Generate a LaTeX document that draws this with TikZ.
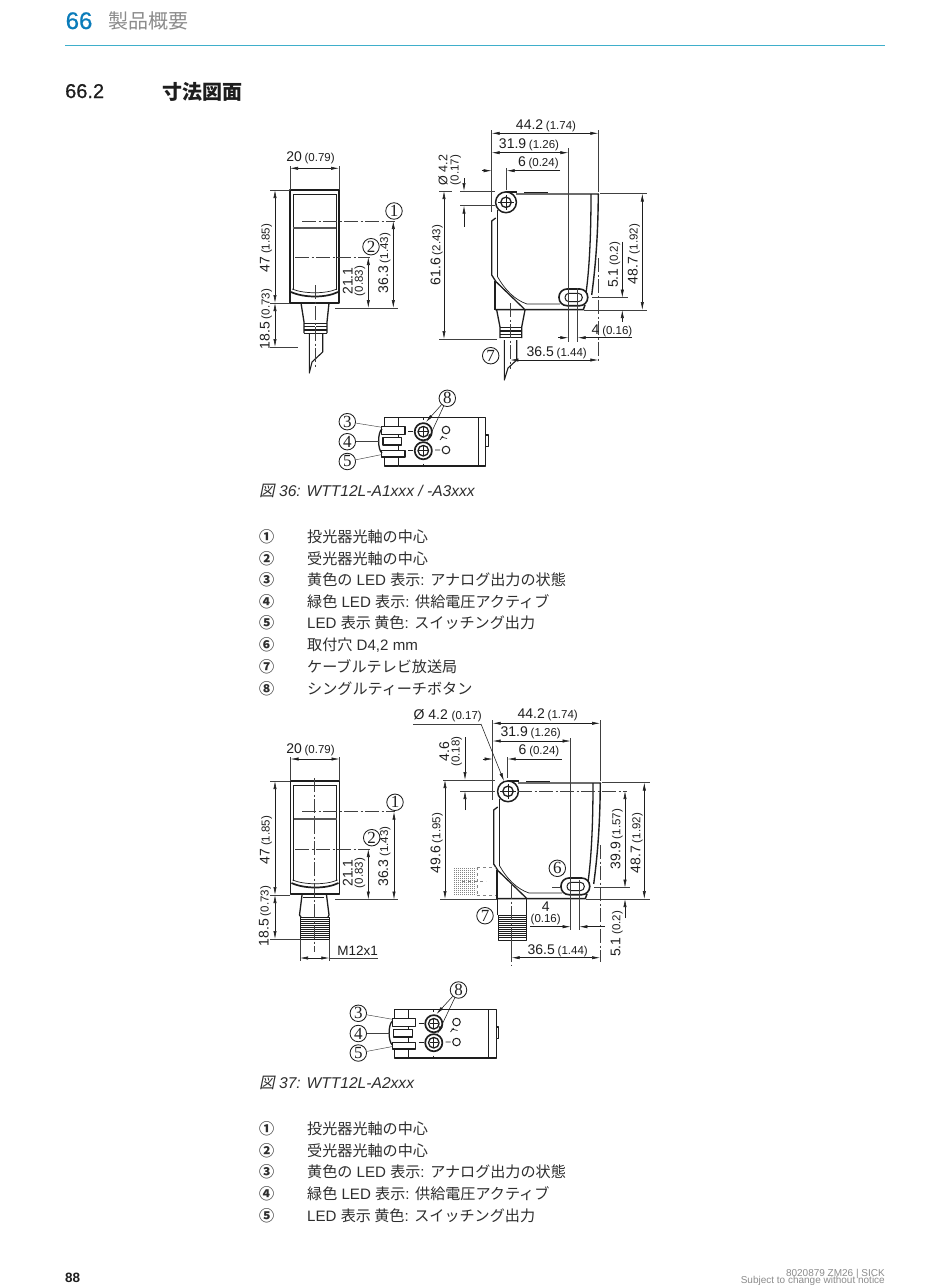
\documentclass[tikz,border=0pt]{standalone}
\usepackage{fontspec}
\setmainfont{Liberation Sans}
\newfontfamily\cjk[AutoFakeSlant=0.2]{Noto Sans CJK JP}
\newfontfamily\medf[FakeBold=0.6]{Liberation Sans}
\newfontfamily\numf{Liberation Serif}
\usetikzlibrary{arrows.meta}
\definecolor{ink}{HTML}{1E1E1E}
\definecolor{txt}{HTML}{2E2E2E}
\definecolor{sickblue}{HTML}{0A7CBA}
\definecolor{rulec}{HTML}{3FAFCB}
\definecolor{headgray}{HTML}{8C8C8C}
\newcounter{nn}
\tikzset{
 dimc/.style={draw=ink,line width=0.55pt,{Latex[length=8pt,width=3.2pt]}-{Latex[length=8pt,width=3.2pt]}},
 dimr/.style={draw=ink,line width=0.55pt,-{Latex[length=8pt,width=3.2pt]}},
 ext/.style={draw=ink!85,line width=0.45pt},
 cen/.style={draw=ink!85,line width=0.5pt,dash pattern=on 14pt off 2.5pt on 2pt off 2.5pt},
 obj/.style={draw=ink,line width=1.3pt,line join=round},
 objt/.style={draw=ink,line width=0.7pt},
 lab/.style={inner sep=0pt,text=ink},
 num/.style={draw=ink,circle,line width=0.85pt,inner sep=0pt,minimum size=16.5pt,text=ink,font=\fontsize{17}{17}\selectfont\numf},
 ltxt/.style={inner sep=0pt,anchor=base west,text=txt,font=\fontsize{15.1}{18}\selectfont},
}
\newcommand\dm[2]{{\fontsize{14}{14}\selectfont #1} {\fontsize{11.5}{14}\selectfont #2}}
\newcommand\T[3][]{\stepcounter{nn}\node[lab,#1] (n\arabic{nn}) at (#2) {#3};}
\newcommand\V[3][]{\stepcounter{nn}\node[lab,rotate=90,#1] (n\arabic{nn}) at (#2) {#3};}
\newcommand\Lt[2]{\stepcounter{nn}\node[ltxt] (n\arabic{nn}) at (#1) {#2};}
\newcommand\Row[3]{\Lt{259,#1}{{\cjk\bfseries #2}}\Lt{307,#1}{#3}}
\newcommand\frontbody{%
 \draw[obj,line width=1.5pt] (290,190) rectangle (339,303);
 \draw[objt] (293,290) -- (293,194) -- (336,194) -- (336,290);
 \draw[obj,line width=1.8pt,draw=ink!75] (293,228) -- (336,228);
 \draw[obj,line width=1.6pt] (300,189.6) -- (305,189.6) (310,189.6) -- (315,189.6) (323,189.6) -- (328,189.6);
 \draw[obj,line width=1.7pt] (291,292) .. controls (304,298) and (326,298) .. (338,292);
 \draw[objt] (292,289) .. controls (304,294) and (326,294) .. (337,289);
}
\newcommand\sidebody{%
 \draw[obj,line width=1.4pt] (516,194) -- (598.3,194) .. controls (598,240) and (595,270) .. (591.7,295);
 \draw[obj] (591,194) .. controls (591,240) and (589,275) .. (585,300);
 \draw[obj,line width=1.5pt] (524,192.5) -- (548,192.5);
 \draw[obj,line width=1.5pt] (506,192) -- (517,192);
 \draw[obj] (497.7,210) -- (497.7,277);
 \draw[obj] (495.7,218) -- (491.7,221) -- (491.7,275) -- (496,281.7);
 \draw[obj] (495,281) -- (495,309.7);
 \draw[obj] (496,281.7) -- (524.3,309);
 \draw[objt] (497.7,277) .. controls (505,290) and (515,300) .. (527,304) -- (560,304);
 \draw[obj,line width=1.5pt] (495,309.7) -- (583.3,309.7) -- (585,305);
 \draw[obj,line width=1.5pt,fill=white] (506,202.3) circle (10.4);
 \draw[obj,fill=white] (506,202.3) circle (5.2);
 \draw[objt] (498,202.3) -- (514,202.3) (506,194.5) -- (506,210);
 \draw[obj,line width=1.6pt,fill=white,rounded corners=8pt] (559,289) rectangle (587.7,305.7);
 \draw[objt,line width=1pt,fill=white,rounded corners=4pt] (565,293.3) rectangle (582.3,301.7);
}
\newcommand\topbody{%
 \draw[obj] (398.3,417.3) rectangle (485.7,466);
 \draw[objt] (478.3,417.3) -- (478.3,466);
 \draw[obj] (398.3,417.3) -- (384.3,417.3) -- (384.3,427);
 \draw[obj] (398.3,466) -- (384.3,466) -- (384.3,456);
 \draw[obj,fill=white] (485.7,435) rectangle (488.2,446.7);
 \draw[obj,fill=white] (405,426.7) -- (381.7,426.7) -- (381.7,434.3) -- (405,434.3) -- cycle;
 \draw[obj,fill=white] (401.7,437.3) -- (383,437.3) -- (383,445) -- (401.7,445) -- cycle;
 \draw[obj,fill=white] (405,450.3) -- (381.7,450.3) -- (381.7,457) -- (405,457) -- cycle;
 \draw[obj] (382,429) .. controls (377.5,432) and (377.5,450) .. (382,453);
 \draw[obj,line width=1.7pt,fill=white] (423.3,431.7) circle (8.6);
 \draw[obj,fill=white] (423.3,431.7) circle (5.3);
 \draw[obj,line width=1.7pt,fill=white] (423.3,450.7) circle (8.6);
 \draw[obj,fill=white] (423.3,450.7) circle (5.3);
 \draw[objt] (423.3,427) -- (423.3,436.4) (423.3,446) -- (423.3,455.4) (419,431.7) -- (427.6,431.7) (419,450.7) -- (427.6,450.7);
 \draw[objt] (408,431.7) -- (413,431.7) (408,450.7) -- (413,450.7) (423.3,417.3) -- (423.3,419.5) (423.3,463.5) -- (423.3,466);
 \draw[obj,line width=1pt] (446,430) circle (3.8) (446,450) circle (3.8);
 \draw[objt] (435,450) -- (440,450) (441,437) -- (447,438.5);
 \draw[objt] (443,436) -- (440,440);
}
\begin{document}
\begin{tikzpicture}[x=1pt,y=-1pt]
\useasboundingbox (0,0) rectangle (950,1285);
\fill[white] (0,0) rectangle (950,1285);
% header
\T[anchor=base west,text=sickblue,font=\fontsize{24}{24}\selectfont\medf]{65.5,29}{66}
\T[anchor=base west,text=headgray,font=\fontsize{20}{24}\selectfont\cjk]{108,28}{製品概要}
\draw[rulec,line width=1pt] (65,45) -- (885,45);
\T[anchor=base west,font=\fontsize{20}{24}\selectfont\medf]{65,98}{66.2}
\T[anchor=base west,font=\fontsize{20}{24}\selectfont\cjk\bfseries]{162,99}{寸法図面}
% ---------- figure 36 front
\frontbody
\draw[obj] (301,303) -- (304,322) -- (304,333);
\draw[obj] (329,303) -- (327,322) -- (327,333);
\draw[obj,line width=1.1pt] (304,323.3) -- (327,323.3) (304,326.7) -- (327,326.7) (304,330) -- (327,330) (304,333.2) -- (327,333.2);
\draw[draw=white,line width=1.4pt] (315.5,322) -- (315.5,334);
\draw[obj,line width=1.1pt] (309.3,333) -- (309.3,373) -- (312,362) -- (322.7,352) -- (322.7,333);
\draw[cen] (315,285) -- (315,367);
\draw[cen] (302,221) -- (395,221);
\draw[cen] (295,257) -- (370,257);
\draw[ext] (290,166) -- (290,190) (339,166) -- (339,190);
\draw[dimc] (290,168.3) -- (339,168.3);
\T{310.5,158}{\dm{20}{(0.79)}}
\draw[ext] (270,190) -- (290,190) (270,303) -- (290,303) (270,347) -- (298,347);
\draw[dimc] (275,190) -- (275,303);
\draw[dimc] (275,303) -- (275,347);
\V{266,248}{\dm{47}{(1.85)}}
\V{266,319}{\dm{18.5}{(0.73)}}
\draw[ext] (335,308) -- (398,308);
\draw[dimc] (393.3,221) -- (393.3,308);
\V{384.3,263}{\dm{36.3}{(1.43)}}
\draw[dimc] (368.3,257) -- (368.3,308);
\V{347.7,281}{\fontsize{14}{14}\selectfont 21.1}
\V{360,281}{\fontsize{11.5}{14}\selectfont (0.83)}
\node[num] (c1a) at (394,211) {1};
\node[num] (c2a) at (371,246.7) {2};
% ---------- figure 36 side
\sidebody
\draw[obj] (496.7,310) -- (500,327) -- (500,338);
\draw[obj] (525,310) -- (521.7,327) -- (521.7,338);
\draw[obj,line width=1.1pt] (500,327.7) -- (521.7,327.7) (500,331) -- (521.7,331) (500,334.3) -- (521.7,334.3) (500,337.7) -- (521.7,337.7);
\draw[draw=white,line width=1.4pt] (510.5,326) -- (510.5,339);
\draw[obj,line width=1.1pt] (504.3,340) -- (504.3,380) -- (508,368) -- (516.7,360) -- (516.7,340);
\draw[cen] (510.3,303) -- (510.3,369);
\draw[ext] (491.7,130) -- (491.7,212) (598.3,130) -- (598.3,192) (568.3,148) -- (568.3,342) (577.7,288) -- (577.7,342);
\draw[cen] (598.3,258) -- (598.3,362);
\draw[dimc] (491.7,133.3) -- (598.3,133.3);
\T{546,126}{\dm{44.2}{(1.74)}}
\draw[dimc] (491.7,152.7) -- (568.3,152.7);
\T{529,144.5}{\dm{31.9}{(1.26)}}
\draw[dimr] (481.7,170.7) -- (491.7,170.7);
\draw[dimr] (560,170.7) -- (506.7,170.7);
\draw[ext] (506.7,168) -- (506.7,190);
\T{538.3,162.5}{\dm{6}{(0.24)}}
\V{443,170}{\fontsize{12.5}{14}\selectfont Ø 4.2}
\V{455.7,170}{\fontsize{11.5}{14}\selectfont (0.17)}
\draw[ext] (460,191) -- (495,191) (460,205.7) -- (495,205.7);
\draw[dimr] (464,178) -- (464,191);
\draw[dimr] (464,226.7) -- (464,205.7);
\draw[ext] (439,191) -- (452,191) (439,339) -- (497,339);
\draw[dimc] (444,191) -- (444,339);
\V{436.7,255}{\dm{61.6}{(2.43)}}
\draw[ext] (600,193.5) -- (647,193.5) (584,310) -- (647,310);
\draw[dimc] (642.3,193.5) -- (642.3,310);
\V{634,254}{\dm{48.7}{(1.92)}}
\draw[ext] (592,297.7) -- (628,297.7);
\draw[dimr] (622.3,241.7) -- (622.3,297.7);
\draw[dimr] (622.3,321.7) -- (622.3,310);
\V{614.3,265}{\dm{5.1}{(0.2)}}
\draw[dimr] (558,337.7) -- (568.3,337.7);
\draw[dimr] (632,337.7) -- (577.7,337.7);
\T{612,331}{\dm{4}{(0.16)}}
\draw[dimc] (510.3,360) -- (598.3,360);
\T{556.7,353}{\dm{36.5}{(1.44)}}
\node[num] (c7a) at (490.7,355.7) {7};
% ---------- figure 36 top
\topbody
\node[num] (c3a) at (347.3,421.7) {3};
\node[num] (c4a) at (347.3,441.7) {4};
\node[num] (c5a) at (347.3,461.5) {5};
\node[num] (c8a) at (447.3,398.3) {8};
\coordinate (p3a) at (382,427.3);
\coordinate (p4a) at (379,441.7);
\coordinate (p5a) at (382,454.5);
\coordinate (p8a) at (426,422);
\coordinate (q8a) at (427,442);
\draw[ext] (c3a) -- (p3a);
\draw[ext] (c4a) -- (p4a);
\draw[ext] (c5a) -- (p5a);
\draw[dimr] (c8a) -- (p8a);
\draw[dimr] (c8a) -- (q8a);
% caption + list 1
\T[anchor=base west,text=txt,font=\fontsize{15.6}{18}\selectfont\itshape]{259,496}{{\cjk\itshape 図} 36: WTT12L-A1xxx / -A3xxx}
\Row{542}{①}{{\cjk 投光器光軸の中心}}
\Row{564}{②}{{\cjk 受光器光軸の中心}}
\Row{585.5}{③}{{\cjk 黄色の} LED {\cjk 表示}: {\cjk アナログ出力の状態}}
\Row{607}{④}{{\cjk 緑色} LED {\cjk 表示}: {\cjk 供給電圧アクティブ}}
\Row{628.5}{⑤}{LED {\cjk 表示 黄色}: {\cjk スイッチング出力}}
\Row{650.5}{⑥}{{\cjk 取付穴} D4,2 mm}
\Row{672}{⑦}{{\cjk ケーブルテレビ放送局}}
\Row{694}{⑧}{{\cjk シングルティーチボタン}}
% ---------- figure 37 front
\begin{scope}[shift={(0.5,591)}]
\frontbody
\end{scope}
\draw[obj] (302,895) -- (299.5,915) -- (301,917);
\draw[obj] (326.5,895) -- (329,915) -- (328,917);
\draw[objt] (303,897.5) -- (324,897.5);
\draw[obj,line width=1pt] (300.5,917) rectangle (329,939);
\foreach \yy in {919,921,923,925,927,929,931,933,935,937} {\draw[objt,line width=0.5pt] (300.5,\yy) -- (329,\yy);}
\draw[cen] (314.5,778) -- (314.5,952);
\draw[cen] (302,811.7) -- (395,811.7);
\draw[cen] (295,849) -- (370,849);
\draw[ext] (290.5,757) -- (290.5,781) (339.5,757) -- (339.5,781);
\draw[dimc] (290.5,759) -- (339.5,759);
\T{310.5,750}{\dm{20}{(0.79)}}
\draw[ext] (270,781) -- (290,781) (270,895) -- (290,895) (270,939) -- (300,939);
\draw[dimc] (275,781) -- (275,895);
\draw[dimc] (275,895) -- (275,939);
\V{266,840}{\dm{47}{(1.85)}}
\V{265,916}{\dm{18.5}{(0.73)}}
\draw[ext] (335,899.5) -- (398,899.5);
\draw[dimc] (394,811.7) -- (394,899.5);
\V{384.3,856.7}{\dm{36.3}{(1.43)}}
\draw[dimc] (368.3,849) -- (368.3,899.5);
\V{347.7,873}{\fontsize{14}{14}\selectfont 21.1}
\V{360,873}{\fontsize{11.5}{14}\selectfont (0.83)}
\draw[ext] (300,939) -- (300,961) (329.3,939) -- (329.3,961);
\draw[dimc] (300,958) -- (329.3,958);
\draw[ext] (329.3,958) -- (378,958);
\T[font=\fontsize{13.5}{14}\selectfont]{357.7,950.5}{M12x1}
\node[num] (c1b) at (395,802.3) {1};
\node[num] (c2b) at (371.7,837.7) {2};
% ---------- figure 37 side
\begin{scope}[shift={(2,589)}]
\sidebody
\end{scope}
\draw[obj] (497.7,870) -- (497.7,915);
\draw[obj] (526.7,899) -- (526.7,915);
\draw[obj,line width=1pt] (498.5,915) rectangle (526.5,940);
\foreach \yy in {917,919,921,923,925,927,929,931,933,935,937} {\draw[objt,line width=0.5pt] (498.5,\yy) -- (526.5,\yy);}
\begin{scope}[draw=ink!55,line width=0.5pt,dashed]
\foreach \yy in {868,870,872,874,876,878,880,882,884,886,888,890,892,894} {\draw[dash pattern=on 1.2pt off 0.8pt] (454,\yy) -- (476,\yy);}
\draw (477,867) -- (496,867) (477,895) -- (496,895) (462,881) -- (486,881) (477,867) -- (477,895);
\end{scope}
\draw[cen] (511.7,885) -- (511.7,965);
\draw[ext] (492.7,720) -- (492.7,800) (600,720) -- (600,781) (570.7,738) -- (570.7,930) (579.3,880) -- (579.3,930) (511.7,940) -- (511.7,962);
\draw[cen] (600,845) -- (600,962);
\draw[dimc] (492.7,723.3) -- (600,723.3);
\T{547.7,715}{\dm{44.2}{(1.74)}}
\draw[dimc] (492.7,741) -- (570.7,741);
\T{530.7,733}{\dm{31.9}{(1.26)}}
\draw[dimr] (482.7,759) -- (492.7,759);
\draw[dimr] (561.7,759) -- (507.7,759);
\draw[ext] (507.7,757) -- (507.7,778);
\T{539,751}{\dm{6}{(0.24)}}
\T{447.7,716}{\fontsize{14}{14}\selectfont Ø 4.2 {\fontsize{11.5}{14}\selectfont (0.17)}}
\coordinate (la) at (413.3,724);
\coordinate (lb) at (481,724);
\coordinate (lc) at (504,781);
\draw[ext] (la) -- (lb);
\draw[dimr] (lb) -- (lc);
\V{444.3,751.7}{\fontsize{14}{14}\selectfont 4.6}
\V{456.7,751.7}{\fontsize{11.5}{14}\selectfont (0.18)}
\draw[ext] (443,780) -- (495,780) (460,791) -- (495,791);
\draw[dimr] (465,737) -- (465,780);
\draw[dimr] (465,810) -- (465,791);
\draw[dimc] (445,780) -- (445,899);
\draw[ext] (440,899) -- (497,899);
\V{436.7,843}{\dm{49.6}{(1.95)}}
\draw[cen] (518,791) -- (627,791);
\draw[dimc] (625,791) -- (625,887.7);
\draw[ext] (594,887.7) -- (630,887.7);
\draw[cen] (552,887.7) -- (561,887.7);
\V{616.7,839}{\dm{39.9}{(1.57)}}
\draw[dimr] (625,918) -- (625,899);
\V{616.7,934}{\dm{5.1}{(0.2)}}
\draw[ext] (602,782.5) -- (650,782.5) (586,899) -- (650,899);
\draw[dimc] (644.3,782.5) -- (644.3,899);
\V{636.7,843}{\dm{48.7}{(1.92)}}
\draw[dimc] (511.7,957.7) -- (600,957.7);
\T{557.7,950.5}{\dm{36.5}{(1.44)}}
\draw[dimr] (530,926.7) -- (570.7,926.7);
\draw[dimr] (605,926.7) -- (579.3,926.7);
\T{545.7,907}{\fontsize{14}{14}\selectfont 4}
\T{545.7,920}{\fontsize{11.5}{14}\selectfont (0.16)}
\node[num] (c6b) at (557.3,868.3) {6};
\node[num] (c7b) at (485,915.7) {7};
% ---------- figure 37 top
\begin{scope}[shift={(10.5,592)}]
\topbody
\end{scope}
\node[num] (c3b) at (358.3,1013.3) {3};
\node[num] (c4b) at (358.3,1033.5) {4};
\node[num] (c5b) at (358.3,1053) {5};
\node[num] (c8b) at (458.5,990) {8};
\coordinate (p3b) at (392.5,1019.3);
\coordinate (p4b) at (389.5,1033.5);
\coordinate (p5b) at (392.5,1046.5);
\coordinate (p8b) at (436.5,1014);
\coordinate (q8b) at (437.5,1034);
\draw[ext] (c3b) -- (p3b);
\draw[ext] (c4b) -- (p4b);
\draw[ext] (c5b) -- (p5b);
\draw[dimr] (c8b) -- (p8b);
\draw[dimr] (c8b) -- (q8b);
% caption + list 2
\T[anchor=base west,text=txt,font=\fontsize{15.6}{18}\selectfont\itshape]{259,1088}{{\cjk\itshape 図} 37: WTT12L-A2xxx}
\Row{1134}{①}{{\cjk 投光器光軸の中心}}
\Row{1156}{②}{{\cjk 受光器光軸の中心}}
\Row{1177.5}{③}{{\cjk 黄色の} LED {\cjk 表示}: {\cjk アナログ出力の状態}}
\Row{1199}{④}{{\cjk 緑色} LED {\cjk 表示}: {\cjk 供給電圧アクティブ}}
\Row{1221}{⑤}{LED {\cjk 表示 黄色}: {\cjk スイッチング出力}}
% footer
\T[anchor=base west,font=\fontsize{13.5}{14}\selectfont\bfseries]{65,1282}{88}
\T[anchor=base east,text=headgray,font=\fontsize{10}{12}\selectfont]{885,1276}{8020879 ZM26 | SICK}
\T[anchor=base east,text=headgray,font=\fontsize{10}{12}\selectfont]{885,1283}{Subject to change without notice}
\end{tikzpicture}
\end{document}
